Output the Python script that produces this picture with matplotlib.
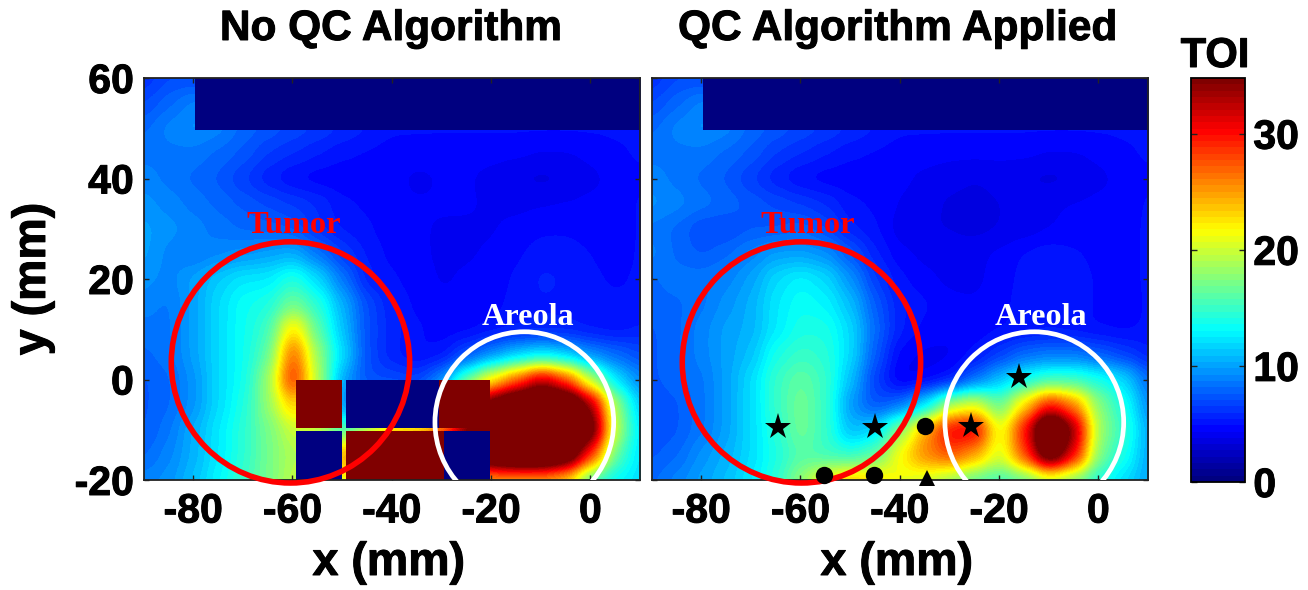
import numpy as np
import matplotlib
matplotlib.use("Agg")
import matplotlib.pyplot as plt
import matplotlib.patheffects as pe
from matplotlib.colors import LinearSegmentedColormap
from matplotlib.cm import ScalarMappable
from matplotlib.colors import Normalize
from matplotlib.patches import Circle

plt.rcParams['font.family'] = ['Liberation Sans', 'DejaVu Sans']
plt.rcParams['axes.unicode_minus'] = False

titles = ["No QC Algorithm", "QC Algorithm Applied"]
x_ticks = [-80, -60, -40, -20, 0]
y_ticks = [-20, 0, 20, 40, 60]
cbar_ticks = [0, 10, 20, 30]
toi_max = 34.8

# TOI sampled every 5 mm: x = -90..10, y = 60..-20
toi_no_qc = [
 [6,7,7,6,5,5,5,5,5,5,5,5,5,5,5,5,5,5,5,5,5],
 [7,8,9,9,8,7,6,6,5,5,5,5,5,5,5,5,5,5,5,5,5],
 [8,9,9.5,9,8,7.5,7,6.5,6,5.5,5,5,5,5,5,5,5,5,5,5,5],
 [8.5,8.5,8.5,8,7.5,6.5,6,5.5,5,4.8,4.6,4.6,4.5,4.5,4.5,4.5,4.3,4.3,4.5,4.8,5],
 [9,8.5,8,7.5,6.5,5.5,4.8,4.5,4.5,4.7,4.5,4.2,4.4,4.4,4.2,3.8,3.6,3.8,4.2,4.5,4.8],
 [9.5,9,8.5,8,7.5,7,6.5,6,5,4.8,4.5,4.4,4.4,4.4,4.3,4.2,4.3,4.4,4.5,4.6,5],
 [10,9.5,9,8.5,8,7.8,7.5,6,5.3,5,4.5,4.4,4.3,4.3,4.3,4.5,4.8,4.8,4.6,4.5,5],
 [10,9,8.5,9,9.5,10,10.5,8.5,6.5,5.3,4.7,4.4,4.3,4.3,4.4,4.8,5.2,5.2,4.9,4.6,5],
 [9.5,9,10,11.5,12.5,12.5,14.5,12,8.5,5.5,5,4.5,4.3,4.4,4.6,5,5.6,5.4,5,4.8,5],
 [9,8.5,10,12,13.5,14,17,14.5,10.5,7,5.5,4.7,4.4,4.5,4.7,5.1,5.4,5.3,5.1,5,5],
 [8.5,8.5,10,12,13.5,15,23.5,16,11,7,5.7,5,4.6,4.6,5,5.3,5.5,5.5,5.2,5,5.5],
 [8,8.5,10,12,13.5,16,28,18,12,7,5.5,4.8,5,7,9,11,12,11,9,8,7],
 [7.5,8,9.5,12,13.5,18,30,19,10,7,7,6.5,9,16,22,27,33,28,19,12,9],
 [7.5,8,9.5,12,14,18,24,19,8,10,10,10,14,30,38,42,44,42,34,18,11],
 [7.5,8.5,10.5,12.5,14.5,17,20,20,15,20,24,24,28,35,42,44,46,46,38,19,12],
 [8,9,10.5,12.5,14.5,17,19,19,26,25,28,28,30,36,42,44,44,40,29,16,12],
 [9,9.5,11,13,15,17,19.5,20,21,22,22,22,22,23,24,24,24,23,15,13,12],
]
toi_qc = [
 [6,7,7,6,5,5,5,5,5,5,5,5,5,5,5,5,5,5,5,5,5],
 [7,8,9,9,8,7,6,6,5,5,5,5,5,5,5,5,5,5,5,5,5],
 [8,9,9.5,9,8,7.5,7,6.5,6,5.5,5,5,5,5,5,5,5,5,5,5,5],
 [8.5,8.5,8.5,8,7.5,6.5,6,5.5,5,4.8,4.6,4.6,4.5,4.5,4.5,4.5,4.3,4.3,4.5,4.8,5],
 [9,8.5,8,7.5,6.5,5.5,4.8,4.5,4.5,4.7,4.5,4.2,4.0,3.8,4.0,3.8,3.6,3.8,4.2,4.5,4.8],
 [9.5,9,8.5,8,7.5,7,6.5,6,5,4.8,4.3,4.0,3.7,3.6,3.8,4.0,4.3,4.4,4.5,4.6,5],
 [8.5,8,7,7,7.5,7.5,8,7,5.5,5,4,3.8,3.8,3.6,3.8,4,4.3,4.5,4.6,4.7,5],
 [9,8,7.5,8,9,10,10,9.5,7.5,5.5,4.5,4.2,4,4.2,4.5,5,5.3,5,4.7,4.7,5],
 [8,8.5,8.5,9,10,12,13,12,9.5,6.5,5,4.5,4.2,4.2,4.6,5.1,5.5,5.2,4.8,4.7,5],
 [8,8,8.5,9.5,10.5,12.5,13.5,13,11,7.5,5.5,5,4.5,4.4,4.7,5.2,5.4,5.2,4.8,4.6,5],
 [7.5,8,9,10,10.5,12.5,14,14,12,8,5.5,4.7,4.5,4.5,4.8,5,5.2,5,4.8,4.7,5],
 [7.5,8,9,10,11,14,15,14.5,12,7.5,4.5,4.2,4.2,5,6.5,8,8.5,8.5,7.5,6.5,5.5],
 [7.5,8,8.5,10,12,15,16.5,15,11,6.5,4,4.2,4.8,8,11,13.5,15,15,14,12,8],
 [7,7.5,8.5,10,12,15,17,15,9.5,7,8,12,19,21,16,23,30,26,17.5,14,9],
 [7,7.5,8.5,10,12,14.5,17,15,10.5,12,18,25,31,32,20,30,44,34,18,15,10],
 [7.5,8,9.5,10.5,12,14,16,15,14.5,16,22,26,28,25,20,28,40,31,17,14,10],
 [8,9,10,11,12.5,14.5,18,22,24,23,21,20,18,16,15,16,19,17,14,12,10],
]

# Saturated sensor blocks of the uncorrected map (NaN = gap between blocks)
block_x = [-59.2, -50, -49.2, -30.4, -29.4, -20.3]
block_y = [-20, -10.2, -9.6, 0]
block_vals = [
 [0, np.nan, 35, 35, 0],
 [np.nan, np.nan, np.nan, np.nan, np.nan],
 [35, np.nan, 0, 35, 35],
]
# Masked top band
band_x = [-79.6, 10]
band_y = [49.7, 60]
band_vals = [[0]]

star_x = [-64.5, -44.9, -25.7, -16]
star_y = [-9.5, -9.5, -9.2, 0.5]
dot_x = [-34.9, -55.2, -45.2]
dot_y = [-9.3, -19, -19]
tri_x = [-34.5]
tri_y = [-19.6]

jet64 = LinearSegmentedColormap.from_list(
    "matlab_jet",
    [(0, (0, 0, .5)), (1/8, (0, 0, 1)), (3/8, (0, 1, 1)),
     (5/8, (1, 1, 0)), (7/8, (1, 0, 0)), (1, (.5, 0, 0))], N=64)

W, H = 1308, 590
fig = plt.figure(figsize=(W/100, H/100), dpi=100)
TICK_FS = 29.5
FAT = [pe.withStroke(linewidth=0.7, foreground='black')]

def box(l, t, r, b):
    return [l/W, 1-b/H, (r-l)/W, (b-t)/H]

def panel(rect, grid, title, title_cx, show_y, tumor_cx, tumor_lx, areola_cx, areola_lx):
    ax = fig.add_axes(box(*rect))
    ax.imshow(np.array(grid, float), cmap=jet64, vmin=0, vmax=toi_max,
              extent=(-92.5, 12.5, -22.5, 62.5), interpolation='gaussian',
              aspect='auto')
    ax.pcolormesh(band_x, band_y, band_vals, cmap=jet64, vmin=0, vmax=toi_max)
    ax.set_xlim(-90, 10)
    ax.set_ylim(-20, 60)
    ax.set_xticks(x_ticks)
    ax.set_xticklabels([str(v) for v in x_ticks], fontsize=TICK_FS, fontweight='bold',
                       path_effects=FAT)
    ax.set_yticks(y_ticks)
    if show_y:
        ax.set_yticklabels([str(v) for v in y_ticks], fontsize=TICK_FS, fontweight='bold',
                           path_effects=FAT)
        ax.set_ylabel("y (mm)", fontsize=33.5, fontweight='bold', path_effects=FAT)
        ax.yaxis.set_label_coords((55-143.5)/496.5, 0.5)
    else:
        ax.set_yticklabels([])
    ax.set_xlabel("x (mm)", fontsize=33.5, fontweight='bold', path_effects=FAT)
    ax.xaxis.set_label_coords(0.494, -(563-480)/402)
    ax.xaxis.label.set_va('center')
    ax.tick_params(direction='in', length=3.5, width=1, top=True, right=True,
                   color='#222222', pad=9)
    ax.tick_params(axis='y', pad=7)
    for s in ax.spines.values():
        s.set_linewidth(1.3)
        s.set_color('#222222')
    fig.text(title_cx/W, 1-29/H, title, fontsize=30.5, fontweight='bold',
             ha='center', va='center', path_effects=FAT)
    ax.add_patch(Circle((tumor_cx, 3.4), 24.0, fill=False, ec='#ff0000',
                        lw=4.0, clip_on=False, zorder=5))
    ax.add_patch(Circle((areola_cx, -8.5), 18.0, fill=False, ec='white',
                        lw=3.4, zorder=5))
    ax.text(tumor_lx, 30.6, "Tumor", color='#ff0000', family='Liberation Serif',
            fontweight='bold', fontsize=23.4, ha='center', va='center', zorder=6)
    ax.text(areola_lx, 12.4, "Areola", color='white', family='Liberation Serif',
            fontweight='bold', fontsize=23.2, ha='center', va='center', zorder=6)
    return ax

ax1 = panel((143.5, 78, 640, 480), toi_no_qc, titles[0], 391, True, -60.4, -59.7, -13.3, -12.6)
ax1.pcolormesh(block_x, block_y, np.ma.masked_invalid(block_vals),
               cmap=jet64, vmin=0, vmax=toi_max, zorder=2)
ax2 = panel((651.5, 78, 1148, 480), toi_qc, titles[1], 898, False, -59.8, -58.6, -12.9, -11.6)
ax2.plot(star_x, star_y, '*', color='k', ms=19.5, mew=0, clip_on=False, zorder=7)
ax2.plot(dot_x, dot_y, 'o', color='k', ms=12.5, mew=0, clip_on=False, zorder=7)
ax2.plot(tri_x, tri_y, '^', color='k', ms=11.5, mew=0, clip_on=False, zorder=7)

cax = fig.add_axes(box(1191, 78, 1245, 482))
cb = fig.colorbar(ScalarMappable(Normalize(0, toi_max), cmap=jet64), cax=cax,
                  ticks=cbar_ticks)
cb.ax.set_yticklabels([str(v) for v in cbar_ticks], fontsize=TICK_FS, fontweight='bold',
                      path_effects=FAT)
cb.ax.tick_params(direction='in', length=4, width=1, left=True, right=True,
                  color='#222222', pad=6)
cb.outline.set_linewidth(1.3)
fig.text(1215/W, 1-56/H, "TOI", fontsize=30, fontweight='bold', ha='center', va='center',
         path_effects=FAT)

fig.savefig("out.png", dpi=100)
